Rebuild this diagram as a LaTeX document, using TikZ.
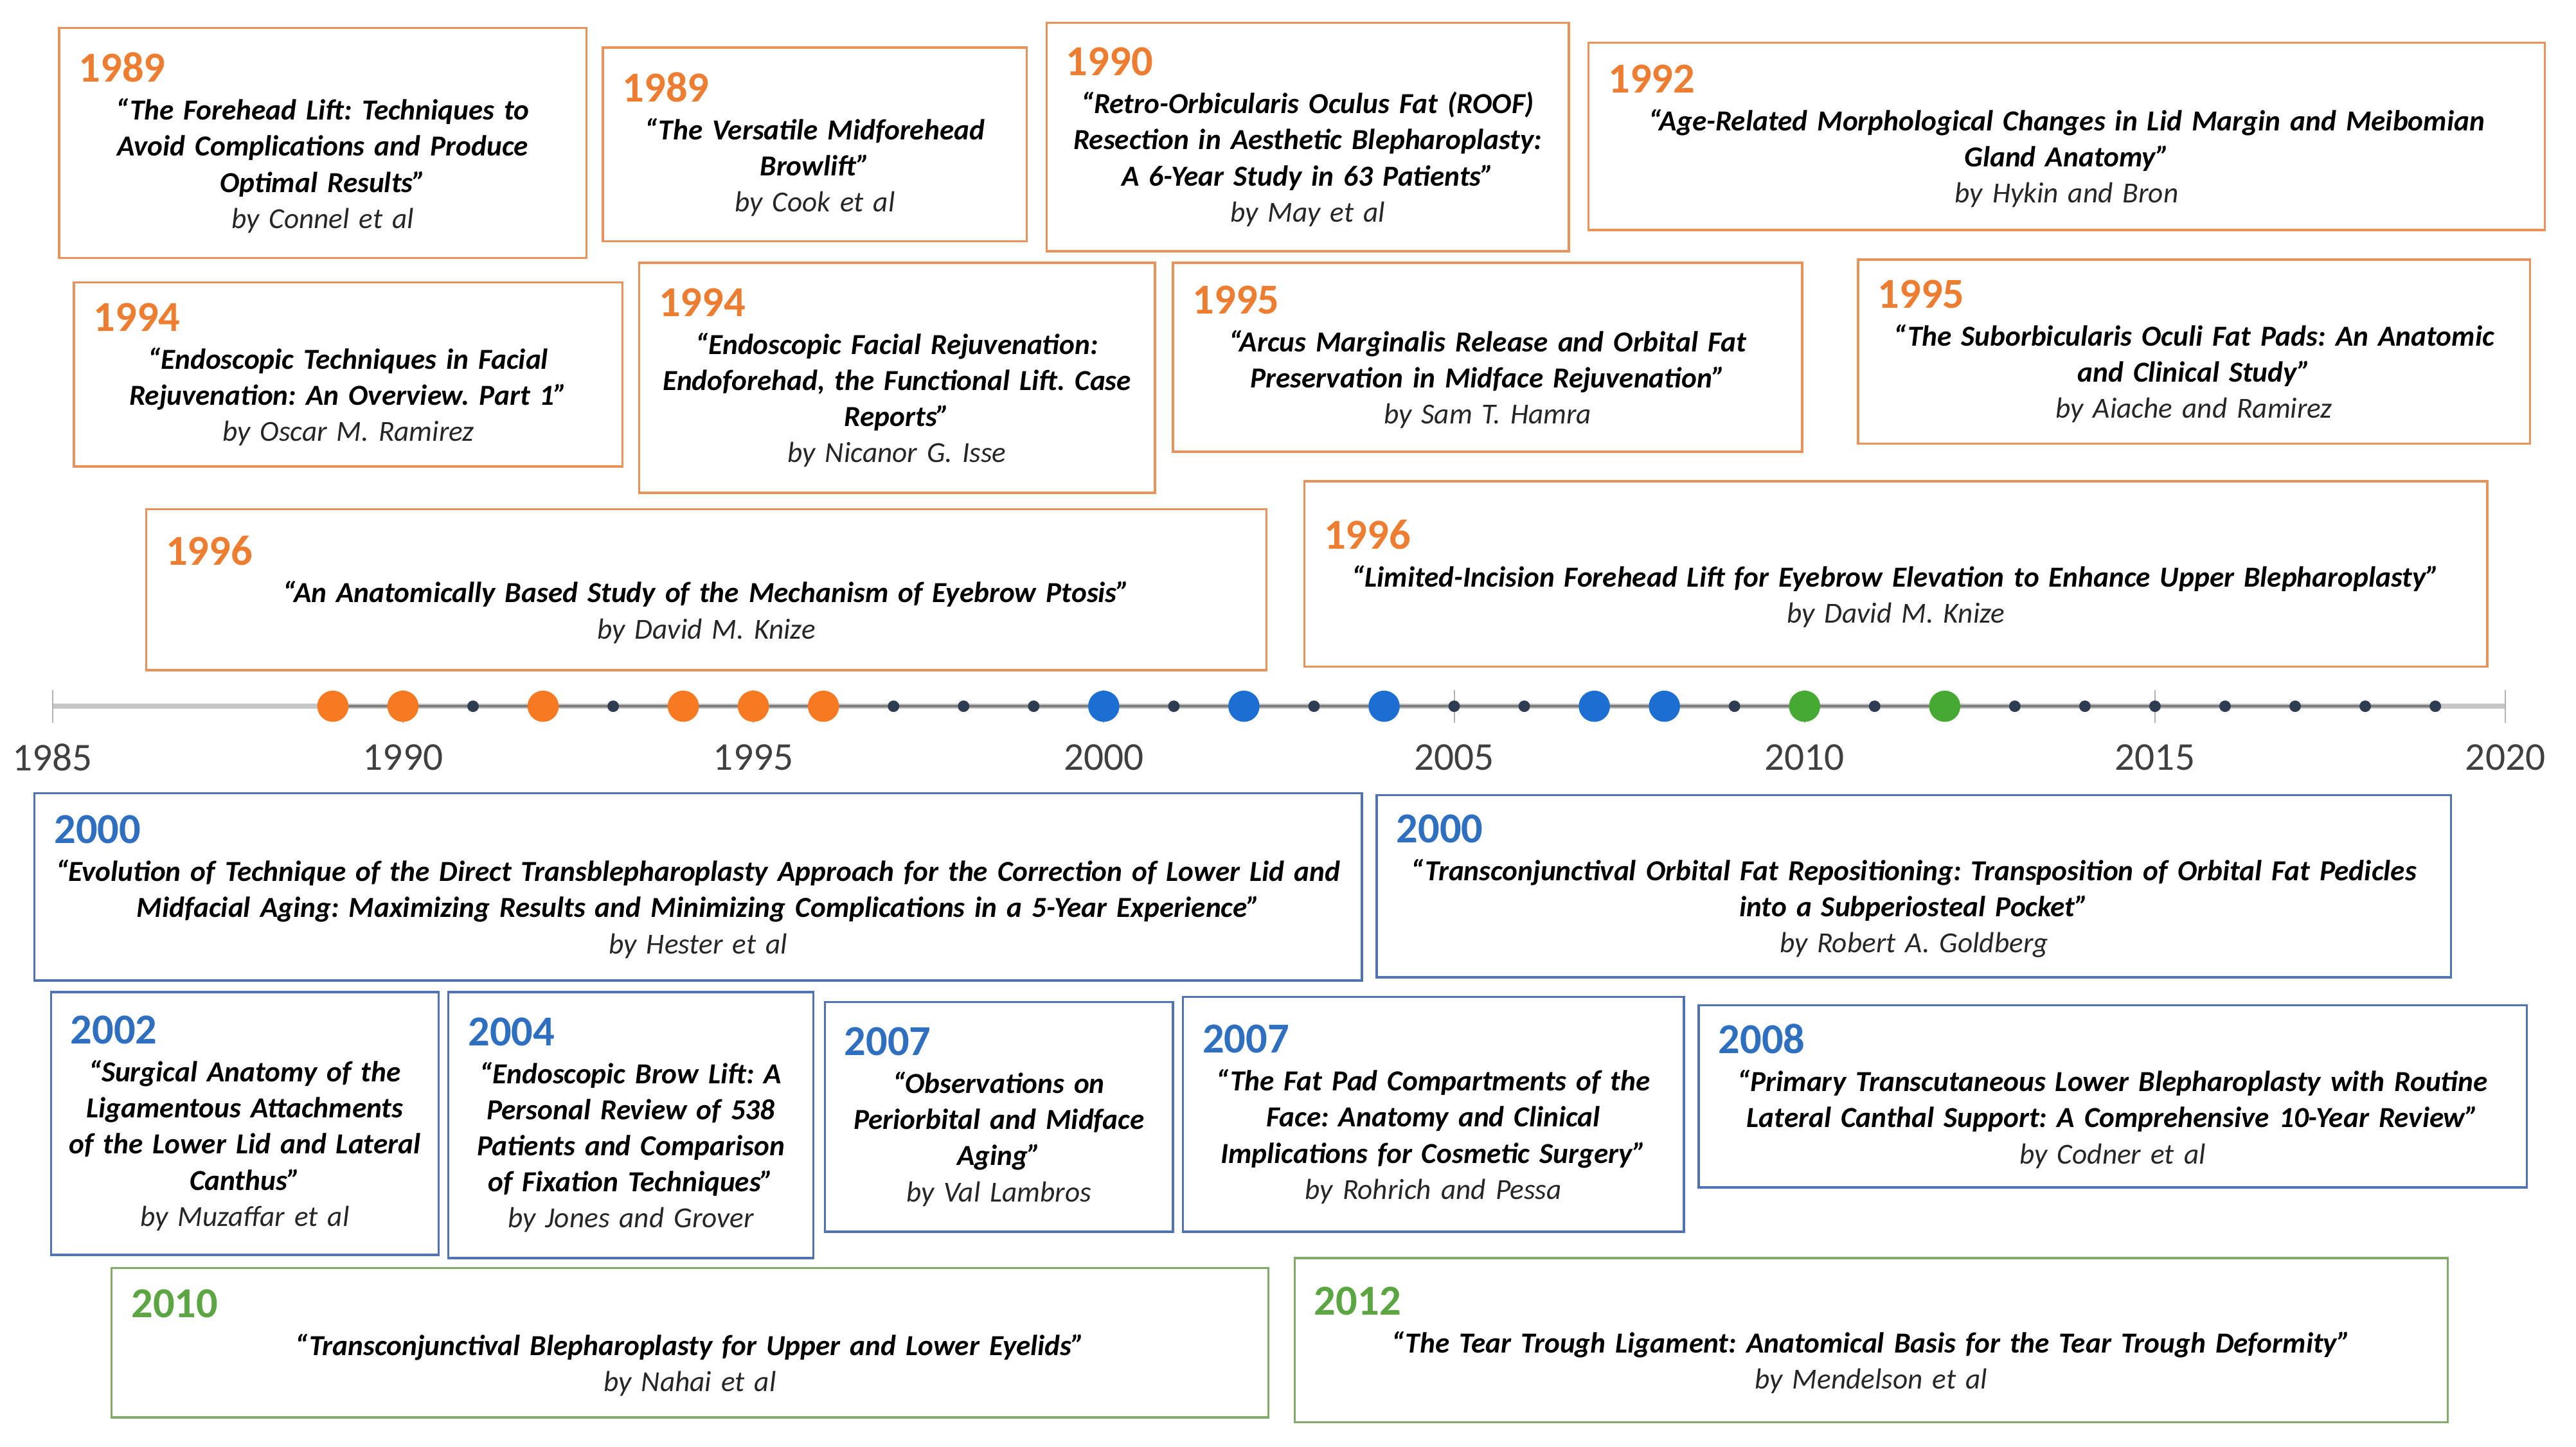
\documentclass[tikz,border=0pt]{standalone}
\usepackage{fontspec}
\setmainfont{Carlito}
\usetikzlibrary{positioning}
\frenchspacing

\definecolor{orangeframe}{HTML}{E8925C}
\definecolor{blueframe}{HTML}{5073B4}
\definecolor{greenframe}{HTML}{82AA69}
\definecolor{orangeyear}{HTML}{ED7D31}
\definecolor{blueyear}{HTML}{2E6FC0}
\definecolor{greenyear}{HTML}{5BA542}
\definecolor{orangedot}{HTML}{F77A22}
\definecolor{bluedot}{HTML}{1C6ED2}
\definecolor{greendot}{HTML}{46AA32}
\definecolor{darkdot}{HTML}{2D3C50}
\definecolor{authorgray}{HTML}{262626}
\definecolor{axisgray}{HTML}{404040}

\newcommand{\titlefont}{\fontsize{17.7}{22}\selectfont\bfseries\itshape}
\newcommand{\pyear}[2]{\makebox[\linewidth][l]{\hspace{4pt}\fontsize{26}{26}\selectfont\bfseries\upshape\color{#1year}#2}\\[1pt]}
\newcommand{\pauthor}[1]{{\mdseries\itshape\color{authorgray}#1}}

\tikzset{
    paper/.style n args={3}{draw=#1frame, line width=1.3pt, fill=white,
        inner xsep=8pt, inner ysep=0pt, minimum width=#2pt, minimum height=#3pt,
        text width=#2pt-16pt, align=center, font=\titlefont},
    bigdot/.style={circle, fill=#1, inner sep=0pt, minimum size=19pt},
    smalldot/.style={circle, fill=darkdot, inner sep=0pt, minimum size=7pt},
    axislabel/.style={text=axisgray, font=\fontsize{24}{24}\selectfont, inner sep=0pt}
}

\begin{document}
\begin{tikzpicture}[x=1pt, y=-1pt]
        \fill[white] (0,0) rectangle (1568,881);

        % timeline
        \coordinate (t1985) at (32,430);
        \coordinate (t2020) at (1525,430);
        \draw[line width=3pt, gray!45] (t1985) -- (t2020);
        \foreach \y in {1985,1990,...,2020}
            \draw[gray!60, line width=0.8pt] ({32+(\y-1985)*42.657},420) -- ({32+(\y-1985)*42.657},440);
        \draw[line width=1.6pt, gray] ({32+4*42.657},430) -- ({32+34*42.657},430);
        \foreach \y in {1991,1993,1997,1998,1999,2001,2003,2005,2006,2009,2011,2013,2014,...,2019}
            \node[smalldot] (d\y) at ({32+(\y-1985)*42.657},430) {};
        \foreach \y/\c in {1989/orangedot,1990/orangedot,1992/orangedot,1994/orangedot,1995/orangedot,1996/orangedot,
                           2000/bluedot,2002/bluedot,2004/bluedot,2007/bluedot,2008/bluedot,2010/greendot,2012/greendot}
            \node[bigdot=\c] (d\y) at ({32+(\y-1985)*42.657},430) {};
        \foreach \y in {1985,1990,...,2020}
            \node[axislabel] (l\y) at ({32+(\y-1985)*42.657},461) {\y};

        % papers before 2000
        \node[paper={orange}{321}{140}] (p1989a) at (196.5,87)
            {\pyear{orange}{1989}“The Forehead Lift: Techniques to\\Avoid Complications and Produce\\Optimal Results”\\\pauthor{by Connel et al}};
        \node[paper={orange}{258}{118}] (p1989b) at (496,88)
            {\pyear{orange}{1989}“The Versatile Midforehead\\Browlift”\\\pauthor{by Cook et al}};
        \node[paper={orange}{318}{139}] (p1990) at (796,83.5)
            {\pyear{orange}{1990}“Retro-Orbicularis Oculus Fat (ROOF)\\Resection in Aesthetic Blepharoplasty:\\A 6-Year Study in 63 Patients”\\\pauthor{by May et al}};
        \node[paper={orange}{582}{114}] (p1992) at (1258,83)
            {\pyear{orange}{1992}“Age-Related Morphological Changes in Lid Margin and Meibomian\\Gland Anatomy”\\\pauthor{by Hykin and Bron}};
        \node[paper={orange}{334}{112}] (p1994a) at (212,228)
            {\pyear{orange}{1994}“Endoscopic Techniques in Facial\\Rejuvenation: An Overview. Part 1”\\\pauthor{by Oscar M. Ramirez}};
        \node[paper={orange}{314}{140}] (p1994b) at (546,230)
            {\pyear{orange}{1994}“Endoscopic Facial Rejuvenation:\\Endoforehad, the Functional Lift. Case\\Reports”\\\pauthor{by Nicanor G. Isse}};
        \node[paper={orange}{383}{115}] (p1995a) at (905.5,217.5)
            {\pyear{orange}{1995}“Arcus Marginalis Release and Orbital Fat\\Preservation in Midface Rejuvenation”\\\pauthor{by Sam T. Hamra}};
        \node[paper={orange}{409}{112}] (p1995b) at (1335.5,214)
            {\pyear{orange}{1995}“The Suborbicularis Oculi Fat Pads: An Anatomic\\and Clinical Study”\\\pauthor{by Aiache and Ramirez}};
        \node[paper={orange}{682}{98}] (p1996a) at (430,359)
            {\pyear{orange}{1996}“An Anatomically Based Study of the Mechanism of Eyebrow Ptosis”\\\pauthor{by David M. Knize}};
        \node[paper={orange}{720}{113}] (p1996b) at (1154,349.5)
            {\pyear{orange}{1996}“Limited-Incision Forehead Lift for Eyebrow Elevation to Enhance Upper Blepharoplasty”\\\pauthor{by David M. Knize}};

        % papers from 2000
        \node[paper={blue}{808}{114}] (p2000a) at (425,540)
            {\pyear{blue}{2000}“Evolution of Technique of the Direct Transblepharoplasty Approach for the Correction of Lower Lid and\\Midfacial Aging: Maximizing Results and Minimizing Complications in a 5-Year Experience”\\\pauthor{by Hester et al}};
        \node[paper={blue}{654}{111}] (p2000b) at (1165,539.5)
            {\pyear{blue}{2000}“Transconjunctival Orbital Fat Repositioning: Transposition of Orbital Fat Pedicles\\into a Subperiosteal Pocket”\\\pauthor{by Robert A. Goldberg}};
        \node[paper={blue}{236}{160}] (p2002) at (149,684)
            {\pyear{blue}{2002}“Surgical Anatomy of the\\Ligamentous Attachments\\of the Lower Lid and Lateral\\Canthus”\\\pauthor{by Muzaffar et al}};
        \node[paper={blue}{222}{162}] (p2004) at (384,685)
            {\pyear{blue}{2004}“Endoscopic Brow Lift: A\\Personal Review of 538\\Patients and Comparison\\of Fixation Techniques”\\\pauthor{by Jones and Grover}};
        \node[paper={blue}{212}{140}] (p2007a) at (608,680)
            {\pyear{blue}{2007}“Observations on\\Periorbital and Midface\\Aging”\\\pauthor{by Val Lambros}};
        \node[paper={blue}{305}{143}] (p2007b) at (872.5,678.5)
            {\pyear{blue}{2007}“The Fat Pad Compartments of the\\Face: Anatomy and Clinical\\Implications for Cosmetic Surgery”\\\pauthor{by Rohrich and Pessa}};
        \node[paper={blue}{504}{111}] (p2008) at (1286,667.5)
            {\pyear{blue}{2008}“Primary Transcutaneous Lower Blepharoplasty with Routine\\Lateral Canthal Support: A Comprehensive 10-Year Review”\\\pauthor{by Codner et al}};

        % papers from 2010
        \node[paper={green}{704}{91}] (p2010) at (420,817.5)
            {\pyear{green}{2010}“Transconjunctival Blepharoplasty for Upper and Lower Eyelids”\\\pauthor{by Nahai et al}};
        \node[paper={green}{702}{100}] (p2012) at (1139,816)
            {\pyear{green}{2012}“The Tear Trough Ligament: Anatomical Basis for the Tear Trough Deformity”\\\pauthor{by Mendelson et al}};
\end{tikzpicture}
\end{document}
